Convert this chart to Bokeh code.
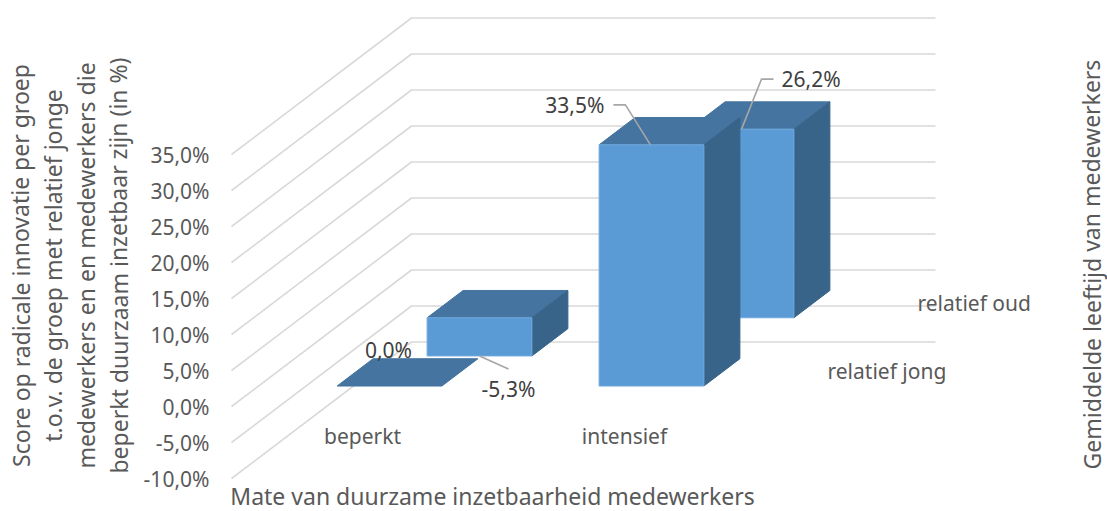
from bokeh.plotting import figure
from bokeh.models import Range1d, ColumnDataSource, Label, FixedTicker
from bokeh.core.properties import value
from bokeh.embed import file_html
from bokeh.resources import INLINE

# ---- data
categories = ["beperkt", "intensief"]
series_names = ["relatief jong", "relatief oud"]
relatief_jong = [0.0, 33.5]
relatief_oud = [-5.3, 26.2]
ticks = [-10, -5, 0, 5, 10, 15, 20, 25, 30, 35]
y_title_lines = [
    "Score op radicale innovatie per groep",
    "t.o.v. de groep met relatief jonge",
    "medewerkers en en medewerkers die",
    "beperkt duurzaam inzetbaar zijn (in %)",
]
x_title = "Mate van duurzame inzetbaarheid medewerkers"
r_title = "Gemiddelde leeftijd van medewerkers"

# ---- layout (screen px of the window)
W, H = 1107, 511
PX_CAT = 262.0      # px per category
PX_PCT = 7.2        # px per percent
DEPTH_X, DEPTH_Y = 180.0, 136.5
LEFT = 231.0
Y_M10 = 478.0
BAR_W, BAR_OFF = 0.4, 0.3
ROW_Z = [0.15, 0.65]
BAR_D = 0.2

FONT = "Noto Sans"
FS = "21px"
FS_TITLE = "23px"
GREY = "#595959"
DARK = "#404040"
C_FRONT, C_TOP, C_SIDE = "#5B9BD5", "#44749F", "#39648A"
C_EDGE = "#6FA9DE"
C_GRID = "#D9D9D9"


def pt(cat, pct, z):
    """Oblique projection: category position, percent and depth to data space."""
    return cat + z * DEPTH_X / PX_CAT, pct + z * DEPTH_Y / PX_PCT


def poly(corners):
    xy = [pt(*c) for c in corners]
    return [a for a, _ in xy], [b for _, b in xy]


x0 = -LEFT / PX_CAT
x1 = (W - LEFT) / PX_CAT
y0 = -10 - (H - Y_M10) / PX_PCT
y1 = -10 + Y_M10 / PX_PCT

p = figure(width=W, height=H, output_backend="svg", toolbar_location=None,
           x_range=Range1d(x0, x1), y_range=Range1d(y0, y1),
           x_axis_location=None, min_border_left=0, min_border_right=0,
           min_border_top=0, min_border_bottom=0, outline_line_color=None)
p.grid.visible = False
p.background_fill_color = "white"

ax = p.yaxis[0]
ax.fixed_location = -22 / PX_CAT
ax.ticker = FixedTicker(ticks=ticks)
ax.major_label_overrides = {t: f"{t:.1f}%".replace(".", ",") for t in ticks}
ax.axis_line_color = None
ax.major_tick_line_color = None
ax.minor_tick_line_color = None
ax.major_tick_in = 0
ax.major_tick_out = 0
ax.major_label_standoff = 0
ax.major_label_text_font = FONT
ax.major_label_text_font_size = FS
ax.major_label_text_color = GREY

# walls
n_cat = len(categories)
gx, gy = [], []
for t in ticks:
    a = pt(0, t, 0)
    b = pt(0, t, 1)
    c = pt(n_cat, t, 1)
    gx.append([a[0], b[0], c[0]])
    gy.append([a[1], b[1], c[1]])
p.multi_line(gx, gy, line_color=C_GRID, line_width=1.6)


def bar(cat_index, val, z0):
    xl = cat_index + BAR_OFF
    xr = xl + BAR_W
    z1 = z0 + BAR_D
    hi, lo = max(val, 0), min(val, 0)
    if val == 0:
        xs, ys = poly([(xl, 0, z0), (xr, 0, z0), (xr, 0, z1), (xl, 0, z1)])
        p.patch(xs, ys, fill_color=C_TOP, line_color=C_TOP, line_width=1)
        return
    xs, ys = poly([(xl, hi, z0), (xr, hi, z0), (xr, hi, z1), (xl, hi, z1)])
    p.patch(xs, ys, fill_color=C_TOP, line_color=C_TOP, line_width=1)
    xs, ys = poly([(xr, lo, z0), (xr, hi, z0), (xr, hi, z1), (xr, lo, z1)])
    p.patch(xs, ys, fill_color=C_SIDE, line_color=C_SIDE, line_width=1)
    xs, ys = poly([(xl, lo, z0), (xr, lo, z0), (xr, hi, z0), (xl, hi, z0)])
    p.patch(xs, ys, fill_color=C_FRONT, line_color=C_EDGE, line_width=1)


# painter's order: back row first
for i, v in enumerate(relatief_oud):
    bar(i, v, ROW_Z[1])
for i, v in enumerate(relatief_jong):
    bar(i, v, ROW_Z[0])


def off(anchor, dx_px, dy_px):
    """Move a data-space point by a number of pixels (screen y grows down)."""
    return anchor[0] + dx_px / PX_CAT, anchor[1] - dy_px / PX_PCT


def leader(anchor, *steps):
    pts = [anchor] + [off(anchor, dx, dy) for dx, dy in steps]
    p.line([a for a, _ in pts], [b for _, b in pts], line_color="#A6A6A6", line_width=1.6)


def fmt(v):
    return f"{v:.1f}%".replace(".", ",")


# leaders: anchored on the bars' front edges
top_j2 = pt(1 + BAR_OFF + BAR_W * 0.49, relatief_jong[1], ROW_Z[0])
leader(top_j2, (-25, -40), (-37, -40))
top_o2 = pt(1 + BAR_OFF + BAR_W * 0.5, relatief_oud[1], ROW_Z[1])
leader(top_o2, (20, -50), (32, -50))
bot_o1 = pt(0 + BAR_OFF + BAR_W * 0.5, relatief_oud[0], ROW_Z[1])
leader(bot_o1, (29, 13))

lab_x, lab_y, lab_t, lab_a = [], [], [], []
for anchor, dx, dy, v, al in [
    (top_j2, -46, -40, relatief_jong[1], "right"),
    (top_o2, 40, -50, relatief_oud[1], "left"),
    (bot_o1, 29, 33, relatief_oud[0], "center"),
    (pt(0 + BAR_OFF + BAR_W * 0.5, relatief_jong[0], ROW_Z[0]), -1, -36, relatief_jong[0], "center"),
]:
    a = off(anchor, dx, dy)
    lab_x.append(a[0]); lab_y.append(a[1]); lab_t.append(fmt(v)); lab_a.append(al)
p.text(x="x", y="y", text="t", text_align="a", text_baseline="middle",
       source=ColumnDataSource(dict(x=lab_x, y=lab_y, t=lab_t, a=lab_a)),
       text_font=value(FONT), text_font_size=FS, text_color=DARK)

# category labels
cat_y = -10 + (Y_M10 - 435) / PX_PCT
p.text(x=[i + 0.5 for i in range(n_cat)], y=[cat_y] * n_cat, text=categories,
       text_align="center", text_baseline="middle",
       text_font=value(FONT), text_font_size=FS, text_color=GREY)

# series labels at the right end of each row, at the zero level
sx, sy = [], []
for z in [0.25, 0.75]:
    a = off(pt(n_cat, 0, z), 27, -1)
    sx.append(a[0]); sy.append(a[1])
p.text(x=sx, y=sy, text=series_names, text_align="left", text_baseline="middle",
       text_font=value(FONT), text_font_size=FS, text_color=GREY)


# titles: screen units count from the frame's left and bottom
def lab(text, win_x, win_y, angle=0.0):
    p.add_layout(Label(x=win_x, y=H - win_y, x_units="screen", y_units="screen", text=text,
                       angle=angle, text_align="center", text_baseline="middle",
                       text_font=FONT, text_font_size=FS_TITLE, text_color=GREY))


for line, cx in zip(y_title_lines, [20, 52.5, 85.5, 118]):
    lab(line, cx, 265, 1.5708)
lab(r_title, 1091, 264, 1.5708)
lab(x_title, 492, 495)

open("out.html", "w").write(file_html(p, INLINE))
